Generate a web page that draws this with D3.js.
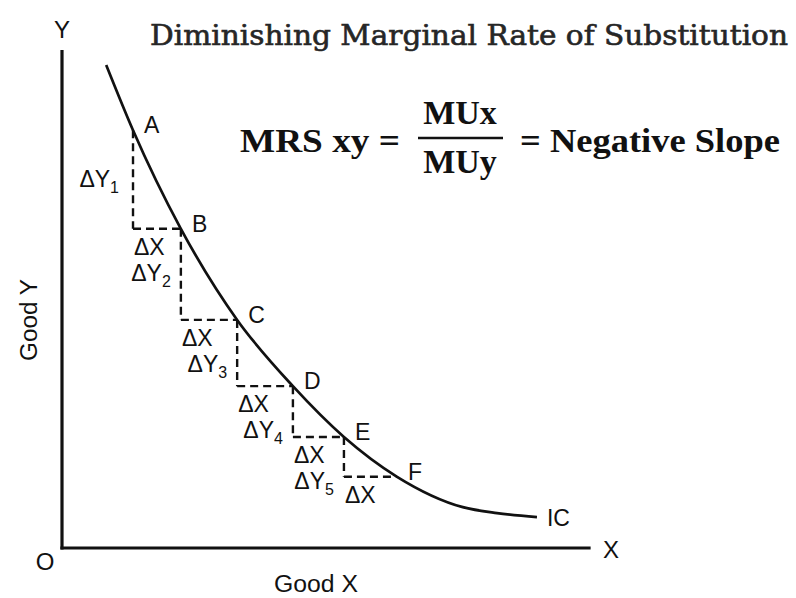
<!DOCTYPE html>
<html>
<head>
<meta charset="utf-8">
<script src="https://cdn.jsdelivr.net/npm/d3@7"></script>
<style>
  html, body { margin: 0; padding: 0; background: #fff; }
  svg { display: block; }
</style>
</head>
<body>
<svg id="chart" width="796" height="598"></svg>
<script>
// Indifference curve (Good X vs Good Y), in axis units
const curveX = [0.84, 1.35, 2.26, 3.33, 4.39, 5.36, 6.37, 7.62, 8.27, 9.03];
const curveY = [9.70, 8.39, 6.41, 4.58, 3.25, 2.23, 1.43, 0.82, 0.70, 0.62];

// Labelled bundles on the curve
const pointNames = ["A", "B", "C", "D", "E", "F"];
const pointX = [1.35, 2.26, 3.33, 4.39, 5.36, 6.37];
const pointY = [8.39, 6.41, 4.58, 3.25, 2.23, 1.43];

// Subscripts of the ΔY steps
const dyLabels = ["1", "2", "3", "4", "5"];

const svg = d3.select("#chart");
const x = d3.scaleLinear().domain([0, 10]).range([62, 588]);
const y = d3.scaleLinear().domain([0, 10]).range([548, 50]);

const ink = "#111";
const sans = "'Liberation Sans', Arial, sans-serif";
const lblSize = 23;

// Axes
svg.append("line").attr("x1", x(0)).attr("y1", y(0) + 1.5).attr("x2", x(0)).attr("y2", y(10))
  .attr("stroke", ink).attr("stroke-width", 3.2);
svg.append("line").attr("x1", x(0) - 1.6).attr("y1", y(0)).attr("x2", x(10.05)).attr("y2", y(0))
  .attr("stroke", ink).attr("stroke-width", 3.2);

// Axis letters and titles
svg.append("text").attr("x", x(0)).attr("y", 38).attr("text-anchor", "middle")
  .attr("font-family", sans).attr("font-size", 24).attr("fill", ink).text("Y");
svg.append("text").attr("x", 611).attr("y", 558).attr("text-anchor", "middle")
  .attr("font-family", sans).attr("font-size", 24).attr("fill", ink).text("X");
svg.append("text").attr("x", 45).attr("y", 570).attr("text-anchor", "middle")
  .attr("font-family", sans).attr("font-size", 24).attr("fill", ink).text("O");
svg.append("text").attr("x", 316).attr("y", 592).attr("text-anchor", "middle")
  .attr("font-family", sans).attr("font-size", 23).attr("fill", ink)
  .attr("textLength", 84).attr("lengthAdjust", "spacingAndGlyphs").text("Good X");
svg.append("text").attr("transform", "translate(37,320) rotate(-90)").attr("text-anchor", "middle")
  .attr("font-family", sans).attr("font-size", 23).attr("fill", ink)
  .attr("textLength", 82).attr("lengthAdjust", "spacingAndGlyphs").text("Good Y");

// Staircase of dashed ΔY / ΔX legs between successive bundles
const steps = d3.range(pointX.length - 1);
const dash = svg.append("g").attr("stroke", ink).attr("stroke-width", 2.4)
  .attr("stroke-dasharray", "8,5").attr("fill", "none");
steps.forEach(i => {
  dash.append("line").attr("x1", x(pointX[i])).attr("y1", y(pointY[i]))
    .attr("x2", x(pointX[i])).attr("y2", y(pointY[i + 1]));
  dash.append("line").attr("x1", x(pointX[i])).attr("y1", y(pointY[i + 1]))
    .attr("x2", x(pointX[i + 1])).attr("y2", y(pointY[i + 1]));
});

// Indifference curve
const line = d3.line().x(d => x(d[0])).y(d => y(d[1])).curve(d3.curveMonotoneX);
svg.append("path").datum(curveX.map((v, i) => [v, curveY[i]]))
  .attr("d", line).attr("fill", "none").attr("stroke", ink).attr("stroke-width", 2.7);

svg.append("text").attr("x", x(curveX[curveX.length - 1]) + 10).attr("y", y(curveY[curveY.length - 1]) + 9)
  .attr("font-family", sans).attr("font-size", lblSize).attr("fill", ink).text("IC");

// Bundle letters
svg.append("g").selectAll("text").data(pointNames).join("text")
  .attr("x", (d, i) => x(pointX[i]) + 11)
  .attr("y", (d, i) => y(pointY[i]) + 3)
  .attr("font-family", sans).attr("font-size", lblSize).attr("fill", ink).text(d => d);

// ΔY labels to the left of each vertical leg
const dyG = svg.append("g").attr("font-family", sans).attr("fill", ink);
steps.forEach(i => {
  const midY = (y(pointY[i]) + y(pointY[i + 1])) / 2;
  const t = dyG.append("text").attr("x", x(pointX[i]) - (i === 0 ? 14 : 10))
    .attr("y", i === 0 ? midY + 8 : y(pointY[i]) + 52)
    .attr("text-anchor", "end").attr("font-size", lblSize);
  t.append("tspan").text("ΔY");
  t.append("tspan").attr("font-size", 16).attr("dy", 6).text(dyLabels[i]);
});

// ΔX labels below each horizontal leg
const dxG = svg.append("g").attr("font-family", sans).attr("fill", ink);
steps.forEach(i => {
  dxG.append("text").attr("x", x(pointX[i]) + 1)
    .attr("y", y(pointY[i + 1]) + 26)
    .attr("font-size", lblSize).text("ΔX");
});

// Title
svg.append("text").attr("x", 150).attr("y", 45)
  .attr("font-family", "'DejaVu Serif', serif")
  .attr("font-size", 27).attr("fill", "#262626")
  .attr("stroke", "#262626").attr("stroke-width", 0.6)
  .attr("textLength", 638).attr("lengthAdjust", "spacingAndGlyphs")
  .text("Diminishing Marginal Rate of Substitution");

// MRS formula
const serifB = "'Liberation Serif', 'Times New Roman', serif";
svg.append("text").attr("x", 240).attr("y", 152).attr("font-family", serifB)
  .attr("font-weight", "bold").attr("font-size", 34).attr("fill", ink)
  .attr("textLength", 160).attr("lengthAdjust", "spacingAndGlyphs").text("MRS xy =");
svg.append("text").attr("x", 460).attr("y", 124).attr("text-anchor", "middle").attr("font-family", serifB)
  .attr("font-weight", "bold").attr("font-size", 34).attr("fill", ink).text("MUx");
svg.append("line").attr("x1", 418).attr("x2", 503).attr("y1", 138).attr("y2", 138)
  .attr("stroke", ink).attr("stroke-width", 2.5);
svg.append("text").attr("x", 460).attr("y", 173).attr("text-anchor", "middle").attr("font-family", serifB)
  .attr("font-weight", "bold").attr("font-size", 34).attr("fill", ink).text("MUy");
svg.append("text").attr("x", 520).attr("y", 152).attr("font-family", serifB)
  .attr("font-weight", "bold").attr("font-size", 34).attr("fill", ink)
  .attr("textLength", 260).attr("lengthAdjust", "spacingAndGlyphs").text("= Negative Slope");
</script>
</body>
</html>
